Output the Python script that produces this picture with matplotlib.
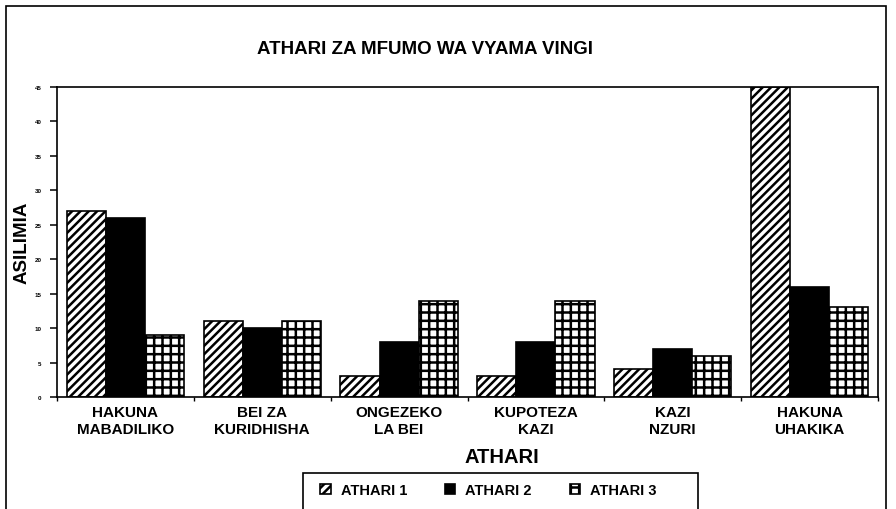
import matplotlib
matplotlib.use("Agg")
import matplotlib.pyplot as plt
from matplotlib.patches import Rectangle
import numpy as np

categories = ["HAKUNA\nMABADILIKO", "BEI ZA\nKURIDHISHA", "ONGEZEKO\nLA BEI",
              "KUPOTEZA\nKAZI", "KAZI\nNZURI", "HAKUNA\nUHAKIKA"]
athari1 = [27, 11, 3, 3, 4, 45]
athari2 = [26, 10, 8, 8, 7, 16]
athari3 = [9, 11, 14, 14, 6, 13]
series_names = ["ATHARI 1", "ATHARI 2", "ATHARI 3"]
yticks = list(range(0, 50, 5))

plt.rcParams['font.family'] = ['Liberation Sans', 'DejaVu Sans']
plt.rcParams['hatch.linewidth'] = 1.8

W, H = 896, 510
fig = plt.figure(figsize=(W / 100, H / 100), dpi=100)
fig.patch.set_facecolor('white')

ax = fig.add_axes([57 / W, 1 - 398 / H, (878 - 57) / W, (398 - 88) / H])

x = np.arange(len(categories))
bw = 0.286
ax.bar(x - bw, athari1, bw, facecolor='white', edgecolor='black', hatch='////',
       linewidth=1.2, label=series_names[0])
ax.bar(x, athari2, bw, facecolor='black', edgecolor='black',
       linewidth=1.2, label=series_names[1])
ax.bar(x + bw, athari3, bw, facecolor='white', edgecolor='black', hatch='++',
       linewidth=1.2, label=series_names[2])

ax.set_xlim(-0.5, len(categories) - 0.5)
ax.set_ylim(0, 45)
for s in ax.spines.values():
    s.set_linewidth(1.2)

ax.set_yticks(yticks)
ax.set_yticklabels([str(v) for v in yticks], fontsize=4.5, fontweight='bold')
ax.tick_params(axis='y', direction='out', length=5, width=1.1, pad=6)

ax.set_xticks(np.arange(-0.5, len(categories), 1.0))
ax.set_xticklabels([])
ax.tick_params(axis='x', which='major', direction='out', length=3, width=1.0)
ax.set_xticks(x, minor=True)
ax.set_xticklabels(categories, minor=True, fontsize=11, fontweight='bold')
ax.tick_params(axis='x', which='minor', length=0, pad=6)

fig.text(425 / W, 1 - 50 / H, "ATHARI ZA MFUMO WA VYAMA VINGI",
         ha='center', va='center', fontsize=13.5, fontweight='bold')
fig.text(22.5 / W, 1 - 243 / H, "ASILIMIA", rotation=90,
         ha='center', va='center', fontsize=13.5, fontweight='bold')
fig.text(502 / W, 1 - 458 / H, "ATHARI",
         ha='center', va='center', fontsize=14.5, fontweight='bold')

handles, labels = ax.get_legend_handles_labels()
fig.legend(handles, labels, loc='center left',
           bbox_to_anchor=(313 / W, 1 - 491 / H), ncol=3, frameon=False,
           prop={'weight': 'bold', 'size': 10.5},
           borderpad=0, handlelength=0.7, handleheight=0.7,
           handletextpad=0.7, columnspacing=2.6)

# legend box
fig.patches.append(Rectangle((303 / W, -0.05), (698 - 303) / W, 1 - 474 / H + 0.05,
                             transform=fig.transFigure, fill=False,
                             edgecolor='black', linewidth=1.2))
# outer frame
fig.patches.append(Rectangle((6 / W, -0.05), (886 - 6) / W, 1 - 7 / H + 0.05,
                             transform=fig.transFigure, fill=False,
                             edgecolor='black', linewidth=1.2))

fig.savefig("out.png", dpi=100)
